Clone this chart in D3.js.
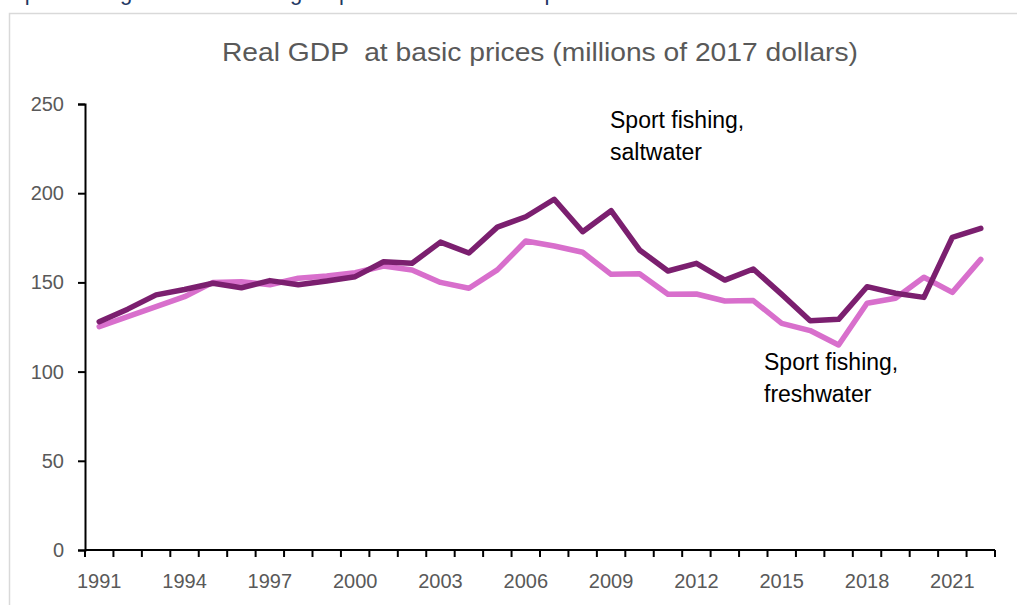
<!DOCTYPE html>
<html>
<head>
<meta charset="utf-8">
<script src="https://cdn.jsdelivr.net/npm/d3@7"></script>
<style>
  html, body { margin: 0; padding: 0; background: #fff; }
  svg { display: block; }
  text { font-family: "Liberation Sans", Arial, sans-serif; }
</style>
</head>
<body>
<div id="chart"></div>
<script>
// Real GDP at basic prices, millions of 2017 dollars
const years = d3.range(1991, 2023);
const saltwater = [128, 135, 143, 146, 149.5, 147, 151, 148.7, 150.8, 153.2,
  161.6, 160.7, 172.6, 166.5, 181, 186.8, 196.6, 178.4, 190.2, 168.2,
  156.4, 160.7, 151.3, 157.5, 143.3, 128.5, 129.3, 147.6, 143.9, 141.6,
  175.3, 180.3];
const freshwater = [125.2, 130.8, 136.4, 142, 150, 150.4, 148.7, 152.3, 153.6, 155.4,
  159.2, 157, 150, 146.7, 157, 173.2, 170.4, 166.9, 154.5, 154.8,
  143.3, 143.5, 139.6, 139.8, 127, 123, 114.9, 138.3, 141.1, 152.9,
  144.4, 162.9];
const yTicks = [0, 50, 100, 150, 200, 250];
const xTickLabels = [1991, 1994, 1997, 2000, 2003, 2006, 2009, 2012, 2015, 2018, 2021];

const W = 1017, H = 605;
const margin = { left: 85, right: 22, top: 104, bottom: 55 };

const svg = d3.select("#chart").append("svg")
  .attr("width", W).attr("height", H);

// heading line above the chart frame (runs past the top edge)
svg.append("text")
  .attr("x", 10).attr("y", 0)
  .attr("fill", "#1f3864")
  .attr("font-size", 22)
  .text("Sport fishing: saltwater fishing outpaced freshwater output");

// chart frame
svg.append("rect")
  .attr("x", 9.5).attr("y", 13.5)
  .attr("width", W + 10).attr("height", H)
  .attr("fill", "#fff")
  .attr("stroke", "#d9d9d9").attr("stroke-width", 1.5);

const x = d3.scaleBand()
  .domain(years)
  .range([margin.left, W - margin.right]);

const y = d3.scaleLinear()
  .domain([0, 250])
  .range([H - margin.bottom, margin.top]);

// title
svg.append("text")
  .attr("x", 540).attr("y", 61)
  .attr("text-anchor", "middle")
  .attr("fill", "#595959")
  .attr("font-size", 26)
  .attr("textLength", 636)
  .attr("lengthAdjust", "spacingAndGlyphs")
  .style("white-space", "pre")
  .text("Real GDP  at basic prices (millions of 2017 dollars)");

// y axis
const yAxis = svg.append("g")
  .attr("transform", `translate(${margin.left},0)`)
  .call(d3.axisLeft(y).tickValues(yTicks).tickSize(7).tickPadding(14));
yAxis.select(".domain").attr("stroke", "#000").attr("stroke-width", 2);
yAxis.selectAll(".tick line").attr("stroke", "#000").attr("stroke-width", 2);
yAxis.selectAll(".tick text")
  .attr("fill", "#595959")
  .attr("font-size", 20)
  .attr("font-family", "Liberation Sans, Arial, sans-serif");

// x axis: ticks on band boundaries, labels centred in bands
const xAxisG = svg.append("g")
  .attr("transform", `translate(0,${y(0)})`);
xAxisG.append("line")
  .attr("x1", x.range()[0]).attr("x2", x.range()[1])
  .attr("stroke", "#000").attr("stroke-width", 2);
const boundaries = years.map(d => x(d)).concat([x.range()[1]]);
xAxisG.selectAll("line.tick")
  .data(boundaries)
  .join("line")
  .attr("class", "tick")
  .attr("x1", d => d).attr("x2", d => d)
  .attr("y1", 0).attr("y2", 7)
  .attr("stroke", "#000").attr("stroke-width", 2);
xAxisG.selectAll("text")
  .data(xTickLabels)
  .join("text")
  .attr("x", d => x(d) + x.bandwidth() / 2)
  .attr("y", 38)
  .attr("text-anchor", "middle")
  .attr("fill", "#595959")
  .attr("font-size", 20)
  .text(d => d);

const line = d3.line()
  .x((d, i) => x(years[i]) + x.bandwidth() / 2)
  .y(d => y(d))
  .curve(d3.curveLinear);

svg.append("path")
  .datum(freshwater)
  .attr("d", line)
  .attr("fill", "none")
  .attr("stroke", "#d86fcc")
  .attr("stroke-width", 5.5)
  .attr("stroke-linejoin", "round")
  .attr("stroke-linecap", "round");

svg.append("path")
  .datum(saltwater)
  .attr("d", line)
  .attr("fill", "none")
  .attr("stroke", "#7b1f6f")
  .attr("stroke-width", 5.5)
  .attr("stroke-linejoin", "round")
  .attr("stroke-linecap", "round");

// series labels
function label(xp, yp, lines) {
  const t = svg.append("text")
    .attr("x", xp).attr("y", yp)
    .attr("fill", "#000")
    .attr("font-size", 23);
  lines.forEach((s, i) => {
    t.append("tspan").attr("x", xp).attr("dy", i === 0 ? 0 : 32).text(s);
  });
}
label(610, 128, ["Sport fishing,", "saltwater"]);
label(764, 370, ["Sport fishing,", "freshwater"]);
</script>
</body>
</html>
